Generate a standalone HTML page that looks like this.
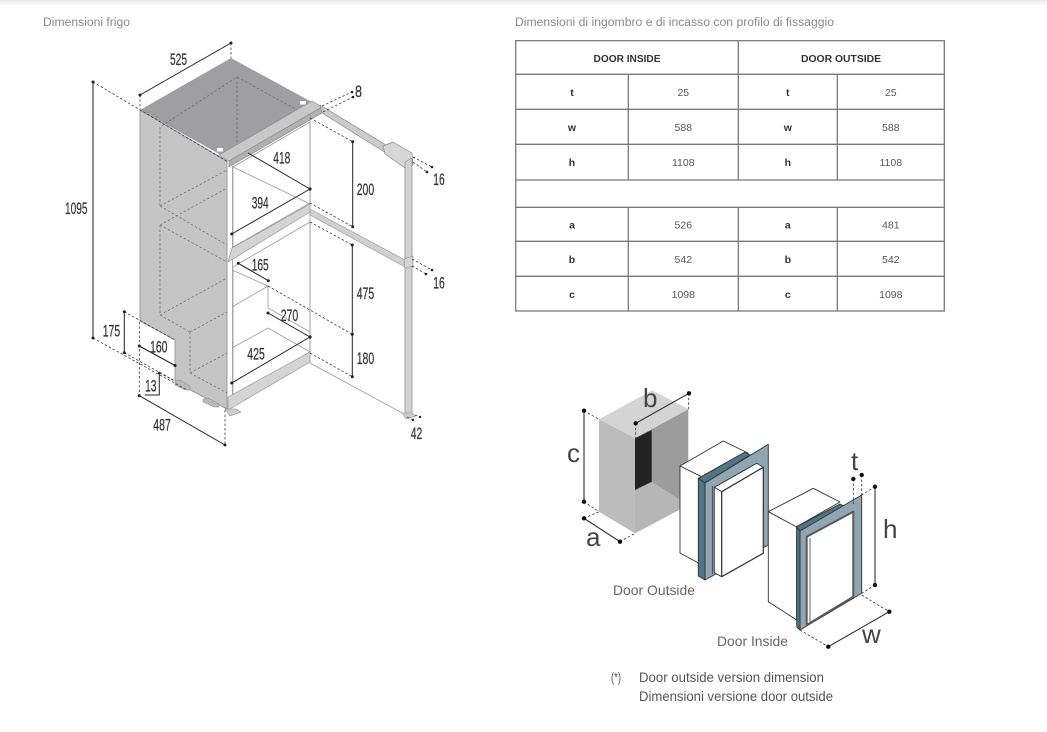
<!DOCTYPE html>
<html><head><meta charset="utf-8">
<style>
html,body{margin:0;padding:0;background:#fff;}
svg{display:block;}
text{font-family:"Liberation Sans",sans-serif;}
</style></head><body>
<svg width="1047" height="732" viewBox="0 0 1047 732" xmlns="http://www.w3.org/2000/svg">
<defs><linearGradient id="tg" x1="0" y1="0" x2="0" y2="1"><stop offset="0" stop-color="#ebebeb"/><stop offset="1" stop-color="#ffffff"/></linearGradient></defs>
<rect width="1047" height="732" fill="#fff"/>
<rect width="1047" height="6" fill="url(#tg)"/>

<!-- titles -->
<text x="43" y="26" font-size="11.5" fill="#8a8a8a" textLength="87" lengthAdjust="spacingAndGlyphs">Dimensioni frigo</text>
<text x="515" y="26" font-size="11.5" fill="#8a8a8a" textLength="319" lengthAdjust="spacingAndGlyphs">Dimensioni di ingombro e di incasso con profilo di fissaggio</text>

<!-- ================= FRIDGE ================= -->
<g stroke-linejoin="round">
<polygon points="140,110 227,161 227,409 175,382 175,340 140,321" fill="#c5c5c5" stroke="#8a8a8a" stroke-width="0.8"/>
<polygon points="140,110 231,58 321,107 230,160" fill="#9f9fa1"/>
<rect x="217" y="148" width="6" height="3.5" fill="#fff"/>
<rect x="300" y="101" width="6" height="3.5" fill="#fff"/>
<g stroke="#6a6a6a" stroke-width="0.7" stroke-dasharray="2.5 2" fill="none">
<polyline points="160,206 160,127 237,77 312,118"/>
<line x1="237" y1="77" x2="237" y2="157"/>
<line x1="160" y1="206" x2="227" y2="245"/>
<line x1="160" y1="206" x2="227" y2="170"/>
<line x1="160" y1="225" x2="227" y2="188"/>
<line x1="160" y1="225" x2="227" y2="262"/>
<line x1="160" y1="225" x2="160" y2="315"/>
<line x1="160" y1="315" x2="227" y2="278"/>
<line x1="160" y1="315" x2="190" y2="332"/>
<line x1="190" y1="332" x2="190" y2="373"/>
<line x1="190" y1="332" x2="227" y2="312"/>
<line x1="190" y1="373" x2="227" y2="393"/>
<line x1="190" y1="373" x2="227" y2="353"/>
</g>
<polygon points="219,155 312,101 322,107 229,161" fill="#c8c8c8" stroke="#8a8a8a" stroke-width="0.7"/>
<polygon points="229,161 322,107 322,113 229,167" fill="#b1b1b1" stroke="#8a8a8a" stroke-width="0.7"/>

<g stroke="#9a9a9a" stroke-width="0.8" fill="none">
<line x1="232.5" y1="166" x2="232.5" y2="408"/>
<line x1="310" y1="113" x2="310" y2="363"/>
<polygon points="233,167 310,122 310,203 233,247"/>
<line x1="233" y1="167" x2="310" y2="204"/>
<polygon points="233,267 310,222 310,352 233,396"/>
<line x1="232" y1="270" x2="268" y2="286"/>
<line x1="268" y1="286" x2="268" y2="308"/>
<line x1="232" y1="307" x2="268" y2="286"/>
<line x1="268" y1="308" x2="310" y2="332"/>
<line x1="232" y1="348" x2="268" y2="328"/>
<line x1="268" y1="328" x2="310" y2="352"/>
</g>
<polygon points="232,248 310,204 310,212 228,262" fill="#d4d4d4" stroke="#999" stroke-width="0.7"/>
<polygon points="228,397 310,352 310,362 228,410" fill="#d4d4d4" stroke="#999" stroke-width="0.7"/>
<polygon points="225,409 236,409 241,412 230,416" fill="#cdcdcd" stroke="#888" stroke-width="0.6"/>
<polygon points="175,381 180,380 190,386 190,390 185,390 175,385" fill="#b9b9b9" stroke="#888" stroke-width="0.5"/>
<polygon points="203,399 208,398 219,404 219,407 214,407 203,402" fill="#b9b9b9" stroke="#888" stroke-width="0.5"/>

<polygon points="320,105 386,145 386,153 322,113" fill="#cbcbcb" stroke="#888" stroke-width="0.7"/>
<polygon points="383,146 393,142 412,153 413,165 405,168 385,154" fill="#d6d6d6" stroke="#888" stroke-width="0.7"/>
<polygon points="405,162 412,158 412,413 405,416" fill="#d2d2d2" stroke="#888" stroke-width="0.7"/>
<polygon points="310,209 405,260 405,267 310,215" fill="#d0d0d0" stroke="#999" stroke-width="0.7"/>
<polygon points="404,259 413,256 413,266 405,268" fill="#d6d6d6" stroke="#888" stroke-width="0.6"/>
<line x1="310" y1="363" x2="404" y2="414" stroke="#999" stroke-width="0.8"/>
<polygon points="402,413 412,413 416,416 406,419" fill="#cdcdcd" stroke="#888" stroke-width="0.5"/>
</g>

<g stroke="#333" stroke-width="0.75" stroke-dasharray="2.5 2" fill="none">
<line x1="93" y1="82" x2="228" y2="162"/>
<line x1="93" y1="338" x2="187" y2="390"/>
<line x1="140" y1="95" x2="140" y2="110"/>
<line x1="231" y1="43" x2="231" y2="58"/>
<line x1="322" y1="106" x2="352" y2="92"/>
<line x1="323" y1="112" x2="353" y2="97"/>
<line x1="413" y1="157" x2="432" y2="167"/>
<line x1="413" y1="162" x2="427" y2="172"/>
<line x1="412" y1="259" x2="432" y2="270"/>
<line x1="412" y1="266" x2="426" y2="274"/>
<line x1="407" y1="417" x2="413" y2="420"/>
<line x1="415" y1="415" x2="420" y2="417"/>
<line x1="310" y1="118" x2="352.7" y2="141.7"/>
<line x1="310" y1="203" x2="352.7" y2="226.7"/>
<line x1="310" y1="222" x2="352.3" y2="245"/>
<line x1="268" y1="286" x2="352.3" y2="334.3"/>
<line x1="310" y1="353" x2="352.3" y2="376.7"/>
<line x1="124.3" y1="311.7" x2="175" y2="340"/>
<line x1="124.3" y1="352.7" x2="175" y2="381"/>
<line x1="139.3" y1="322" x2="139.3" y2="395.7"/>
<line x1="225" y1="410" x2="225" y2="445"/>
<line x1="159.3" y1="373" x2="175" y2="381"/>
</g>
<g stroke="#222" stroke-width="1" fill="none">
<line x1="93" y1="82" x2="93" y2="338"/>
<line x1="140" y1="95" x2="231" y2="43"/>
<line x1="248" y1="153" x2="310" y2="189"/>
<line x1="231.7" y1="234" x2="310" y2="189"/>
<line x1="352.7" y1="141.7" x2="352.7" y2="226.7"/>
<line x1="352.3" y1="245" x2="352.3" y2="376.7"/>
<line x1="238.3" y1="263.3" x2="268.3" y2="280.7"/>
<line x1="268" y1="313" x2="310" y2="337"/>
<line x1="231.7" y1="383" x2="310" y2="337"/>
<line x1="124.3" y1="311.7" x2="124.3" y2="352.7"/>
<line x1="139.3" y1="346" x2="175" y2="365.5"/>
<polyline points="159.3,373 159.3,395 145,395"/>
<line x1="139.3" y1="395.7" x2="225" y2="445"/>
</g>
<g fill="#222">
<circle cx="93" cy="82" r="1.5"/><circle cx="93" cy="338" r="1.5"/>
<circle cx="140" cy="95" r="1.5"/><circle cx="231" cy="43" r="1.5"/>
<circle cx="310" cy="189" r="1.6"/><circle cx="231.7" cy="234" r="1.5"/>
<circle cx="352.7" cy="141.7" r="1.5"/><circle cx="352.7" cy="226.7" r="1.5"/>
<circle cx="352.3" cy="245" r="1.5"/><circle cx="352.3" cy="334.3" r="1.5"/><circle cx="352.3" cy="376.7" r="1.5"/>
<circle cx="238.3" cy="263.3" r="1.5"/><circle cx="268.3" cy="280.7" r="1.5"/>
<circle cx="268" cy="313" r="1.5"/><circle cx="310" cy="337" r="1.6"/><circle cx="231.7" cy="383" r="1.5"/>
<circle cx="124.3" cy="311.7" r="1.5"/><circle cx="124.3" cy="352.7" r="1.5"/>
<circle cx="139.3" cy="346" r="1.5"/><circle cx="175" cy="365.5" r="1.5"/>
<circle cx="159.3" cy="373" r="1.3"/>
<circle cx="139.3" cy="395.7" r="1.5"/><circle cx="225" cy="445" r="1.5"/>
<circle cx="352" cy="92" r="1.3"/><circle cx="353" cy="97" r="1.3"/>
<circle cx="432" cy="167" r="1.3"/><circle cx="427" cy="172" r="1.3"/>
<circle cx="432" cy="270" r="1.3"/><circle cx="426" cy="274" r="1.3"/>
<circle cx="413" cy="420" r="1.2"/><circle cx="420" cy="417" r="1.2"/>
</g>
<g font-size="17" fill="#3a3232" stroke="#3a3232" stroke-width="0.25">
<text x="170" y="65" textLength="17" lengthAdjust="spacingAndGlyphs">525</text>
<text x="355" y="97" textLength="7" lengthAdjust="spacingAndGlyphs">8</text>
<text x="273.3" y="163.3" textLength="17" lengthAdjust="spacingAndGlyphs">418</text>
<text x="251.7" y="208.3" textLength="17" lengthAdjust="spacingAndGlyphs">394</text>
<text x="356.7" y="195" textLength="17.5" lengthAdjust="spacingAndGlyphs">200</text>
<text x="433.3" y="185" textLength="11.5" lengthAdjust="spacingAndGlyphs">16</text>
<text x="65" y="214" textLength="22.5" lengthAdjust="spacingAndGlyphs">1095</text>
<text x="251.7" y="270.7" textLength="17" lengthAdjust="spacingAndGlyphs">165</text>
<text x="433.3" y="288.3" textLength="11.5" lengthAdjust="spacingAndGlyphs">16</text>
<text x="356.7" y="299" textLength="17.5" lengthAdjust="spacingAndGlyphs">475</text>
<text x="280.7" y="321" textLength="17.5" lengthAdjust="spacingAndGlyphs">270</text>
<text x="102.7" y="336.7" textLength="17.5" lengthAdjust="spacingAndGlyphs">175</text>
<text x="150" y="352.3" textLength="17.5" lengthAdjust="spacingAndGlyphs">160</text>
<text x="247.3" y="359.3" textLength="17.5" lengthAdjust="spacingAndGlyphs">425</text>
<text x="356.7" y="364" textLength="17.5" lengthAdjust="spacingAndGlyphs">180</text>
<text x="145" y="391.7" textLength="11.5" lengthAdjust="spacingAndGlyphs">13</text>
<text x="153.3" y="430.7" textLength="17.5" lengthAdjust="spacingAndGlyphs">487</text>
<text x="410.7" y="439" textLength="11.5" lengthAdjust="spacingAndGlyphs">42</text>
</g>

<!-- ================= TABLE ================= -->
<g stroke="#7a7a7a" stroke-width="1.3" fill="none">
<rect x="515.7" y="40.7" width="428.6" height="270.3"/>
<line x1="515.7" y1="74.3" x2="944.3" y2="74.3"/>
<line x1="515.7" y1="109.3" x2="944.3" y2="109.3"/>
<line x1="515.7" y1="144.3" x2="944.3" y2="144.3"/>
<line x1="515.7" y1="180" x2="944.3" y2="180"/>
<line x1="515.7" y1="207.3" x2="944.3" y2="207.3"/>
<line x1="515.7" y1="241.3" x2="944.3" y2="241.3"/>
<line x1="515.7" y1="276.3" x2="944.3" y2="276.3"/>
<line x1="738.3" y1="40.7" x2="738.3" y2="180"/>
<line x1="738.3" y1="207.3" x2="738.3" y2="311"/>
<line x1="628.3" y1="74.3" x2="628.3" y2="180"/>
<line x1="628.3" y1="207.3" x2="628.3" y2="311"/>
<line x1="837.3" y1="74.3" x2="837.3" y2="180"/>
<line x1="837.3" y1="207.3" x2="837.3" y2="311"/>
</g>
<g font-size="10.5" text-anchor="middle">
<text x="627" y="62" font-weight="bold" fill="#333" textLength="67" lengthAdjust="spacingAndGlyphs">DOOR INSIDE</text>
<text x="841" y="62" font-weight="bold" fill="#333" textLength="80" lengthAdjust="spacingAndGlyphs">DOOR OUTSIDE</text>
<g font-weight="bold" fill="#333">
<text x="572" y="96">t</text><text x="787.8" y="96">t</text>
<text x="572" y="131">w</text><text x="787.8" y="131">w</text>
<text x="572" y="166">h</text><text x="787.8" y="166">h</text>
<text x="572" y="228.5">a</text><text x="787.8" y="228.5">a</text>
<text x="572" y="263">b</text><text x="787.8" y="263">b</text>
<text x="572" y="298">c</text><text x="787.8" y="298">c</text>
</g>
<g fill="#555">
<text x="683.3" y="96">25</text><text x="890.8" y="96">25</text>
<text x="683.3" y="131">588</text><text x="890.8" y="131">588</text>
<text x="683.3" y="166">1108</text><text x="890.8" y="166">1108</text>
<text x="683.3" y="228.5">526</text><text x="890.8" y="228.5">481</text>
<text x="683.3" y="263">542</text><text x="890.8" y="263">542</text>
<text x="683.3" y="298">1098</text><text x="890.8" y="298">1098</text>
</g>
</g>

<!-- ================= NICHE DIAGRAM ================= -->
<g stroke-linejoin="round">
<polygon points="599,419.3 652.3,390.3 688.3,409.3 635,438.3" fill="#d4d4d4"/>
<polygon points="599,419.3 635,438.3 635,533.3 599,511.7" fill="#bcbcbc"/>
<polygon points="635,438.3 688.3,409.3 688.3,505 635,533.3" fill="#9c9c9c"/>
<polygon points="635,490 651.7,481.7 688.3,505 635,533.3" fill="#b6b6b6"/>
<polygon points="635,438.3 651.7,430 651.7,481.7 635,490" fill="#222"/>
<g stroke="#222" stroke-width="1" fill="none">
<line x1="584" y1="410.7" x2="584" y2="501.7"/>
<line x1="584" y1="518.3" x2="620" y2="541.7"/>
<line x1="635.7" y1="423.3" x2="689" y2="393.3"/>
</g>
<g stroke="#333" stroke-width="0.8" stroke-dasharray="2.5 2" fill="none">
<line x1="584" y1="410.7" x2="599" y2="419.3"/>
<line x1="584" y1="501.7" x2="599" y2="511.7"/>
<line x1="584" y1="518.3" x2="599" y2="511.7"/>
<line x1="620" y1="541.7" x2="635" y2="533.3"/>
<line x1="635.7" y1="423.3" x2="635.7" y2="438.3"/>
<line x1="689" y1="393.3" x2="688.3" y2="409.3"/>
</g>
<g fill="#111">
<circle cx="584" cy="410.7" r="2.2"/><circle cx="584" cy="501.7" r="2.2"/>
<circle cx="584" cy="518.3" r="2.2"/><circle cx="620" cy="541.7" r="2.2"/>
<circle cx="635.7" cy="423.3" r="2.2"/><circle cx="689" cy="393.3" r="2.2"/>
</g>

<g stroke="#333" stroke-width="0.9">
<polygon points="680,466 723.3,441 748,453 704,478" fill="#fff"/>
<polygon points="680,466 704,478 704,566 680,553" fill="#fff"/>
<polygon points="698.3,478.3 745,452 750,455 705,483" fill="#4f7686"/>
<polygon points="705,483 768.3,444.3 768.3,545 705,580" fill="#90a6b2"/>
<polygon points="698.3,478.3 705,483 705,580 698.3,576" fill="#4f7686"/>
<polygon points="714.3,487.3 756.7,463.3 763.3,467.3 721.7,491.7" fill="#fff"/>
<polygon points="714.3,487.3 721.7,491.7 721.7,576.7 714.3,572.7" fill="#fff"/>
<polygon points="721.7,491.7 763.3,467.3 763.3,553.3 721.7,576.7" fill="#fff" stroke-width="1.2"/>
</g>
<line x1="712.5" y1="486" x2="712.5" y2="574" stroke="#555" stroke-width="1.2"/>

<g stroke="#333" stroke-width="0.9">
<polygon points="768.3,511.7 813.3,488.3 840,502 796,527" fill="#fff"/>
<polygon points="768.3,511.7 796.7,527 796.7,620 768.3,601.7" fill="#fff"/>
<polygon points="796.7,526.7 840,504 845,507 800,531" fill="#4f7686"/>
<polygon points="800,531 861.7,495 861.7,593.3 800,630" fill="#90a6b2"/>
<polygon points="796.7,526.7 800,531 800,630 796.7,627" fill="#4f7686"/>
<polygon points="806.7,536.7 853.3,511.7 853.3,596.7 806.7,625" fill="#fff" stroke="#5a5a5a" stroke-width="2"/>
</g>
<line x1="810" y1="538" x2="810" y2="623" stroke="#666" stroke-width="1"/>
<g stroke="#222" stroke-width="1" fill="none">
<line x1="875" y1="486.7" x2="875" y2="585"/>
<line x1="828.3" y1="646.7" x2="889.3" y2="611.7"/>
</g>
<g stroke="#333" stroke-width="0.8" stroke-dasharray="2.5 2" fill="none">
<line x1="875" y1="486.7" x2="861.7" y2="495"/>
<line x1="875" y1="585" x2="861.7" y2="593.3"/>
<line x1="853.3" y1="479" x2="853.3" y2="506"/>
<line x1="861.7" y1="475" x2="861.7" y2="495"/>
<line x1="800" y1="630" x2="828.3" y2="646.7"/>
<line x1="861.7" y1="595" x2="889.3" y2="611.7"/>
</g>
<g fill="#111">
<circle cx="875" cy="486.7" r="2.2"/><circle cx="875" cy="585" r="2.2"/>
<circle cx="853.3" cy="479" r="2.2"/><circle cx="861.7" cy="475" r="2.2"/>
<circle cx="828.3" cy="646.7" r="2.2"/><circle cx="889.3" cy="611.7" r="2.2"/>
</g>
</g>
<g font-size="26" fill="#444">
<text x="567" y="462">c</text>
<text x="586" y="546">a</text>
<text x="643" y="407">b</text>
<text x="883" y="538">h</text>
<text x="851" y="470">t</text>
<text x="862" y="643">w</text>
</g>
<text x="613" y="595" font-size="14" fill="#666" textLength="82" lengthAdjust="spacingAndGlyphs">Door Outside</text>
<text x="717" y="646" font-size="14" fill="#666" textLength="71" lengthAdjust="spacingAndGlyphs">Door Inside</text>

<text x="611" y="682" font-size="14" fill="#555" textLength="10" lengthAdjust="spacingAndGlyphs">(*)</text>
<text x="639" y="682" font-size="14" fill="#555" textLength="185" lengthAdjust="spacingAndGlyphs">Door outside version dimension</text>
<text x="639" y="701" font-size="14" fill="#555" textLength="194" lengthAdjust="spacingAndGlyphs">Dimensioni versione door outside</text>
</svg>
</body></html>
